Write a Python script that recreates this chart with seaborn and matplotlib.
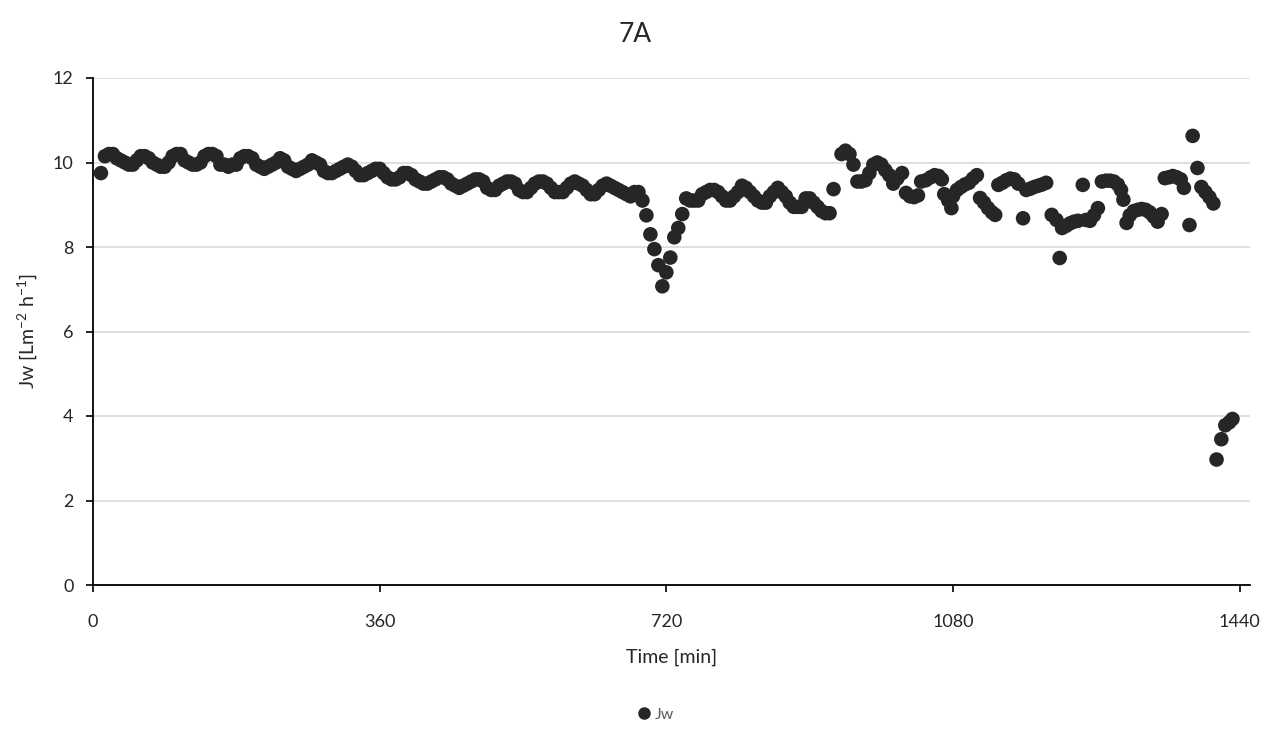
import matplotlib
matplotlib.use("Agg")
import matplotlib.pyplot as plt
import seaborn as sns
import pandas as pd

# ---- data ----
time_wave = [10, 15, 20, 25, 30, 35, 40, 45, 50, 55, 60, 65, 70, 75, 80, 85, 90, 95, 100,
             105, 110, 115, 120, 125, 130, 135, 140, 145, 150, 155, 160, 165, 170, 175, 180,
             185, 190, 195, 200, 205, 210, 215, 220, 225, 230, 235, 240, 245, 250, 255, 260,
             265, 270, 275, 280, 285, 290, 295, 300, 305, 310, 315, 320, 325, 330, 335, 340,
             345, 350, 355, 360, 365, 370, 375, 380, 385, 390, 395, 400, 405, 410, 415, 420,
             425, 430, 435, 440, 445, 450, 455, 460, 465, 470, 475, 480, 485, 490, 495, 500,
             505, 510, 515, 520, 525, 530, 535, 540, 545, 550, 555, 560, 565, 570, 575, 580,
             585, 590, 595, 600, 605, 610, 615, 620, 625, 630, 635, 640, 645, 650, 655, 660,
             665, 670, 675, 680]
jw_wave = [9.75, 10.15, 10.2, 10.2, 10.1, 10.05, 10.0, 9.95, 9.95, 10.05, 10.15, 10.15, 10.1,
           10.0, 9.95, 9.9, 9.9, 10.0, 10.15, 10.2, 10.2, 10.05, 10.0, 9.95, 9.95, 10.0, 10.15,
           10.2, 10.2, 10.15, 9.95, 9.95, 9.9, 9.95, 9.95, 10.1, 10.15, 10.15, 10.1, 9.95, 9.9,
           9.85, 9.9, 9.95, 10.0, 10.1, 10.05, 9.9, 9.85, 9.8, 9.85, 9.9, 9.95, 10.05, 10.0,
           9.95, 9.8, 9.75, 9.75, 9.8, 9.85, 9.9, 9.95, 9.9, 9.8, 9.7, 9.7, 9.75, 9.8, 9.85,
           9.85, 9.75, 9.65, 9.6, 9.6, 9.65, 9.75, 9.75, 9.7, 9.6, 9.55, 9.5, 9.5, 9.55, 9.6,
           9.65, 9.65, 9.6, 9.5, 9.45, 9.4, 9.45, 9.5, 9.55, 9.6, 9.6, 9.55, 9.4, 9.35, 9.35,
           9.45, 9.5, 9.55, 9.55, 9.5, 9.35, 9.3, 9.3, 9.4, 9.5, 9.55, 9.55, 9.5, 9.4, 9.3,
           9.3, 9.3, 9.4, 9.5, 9.55, 9.5, 9.45, 9.35, 9.25, 9.25, 9.35, 9.45, 9.5, 9.45, 9.4,
           9.35, 9.3, 9.25, 9.2, 9.3]

time_dip = [685, 690, 695, 700, 705, 710, 715, 720, 725, 730, 735, 740, 745]
jw_dip = [9.3, 9.1, 8.75, 8.3, 7.95, 7.57, 7.07, 7.4, 7.75, 8.23, 8.45, 8.78, 9.15]

time_mid = [750, 755, 760, 765, 770, 775, 780, 785, 790, 795, 800, 805, 810, 815, 820, 825,
            830, 835, 840, 845, 850, 855, 860, 865, 870, 875, 880, 885, 890, 895, 900, 905,
            910, 915, 920, 925, 930]
jw_mid = [9.1, 9.1, 9.1, 9.25, 9.3, 9.35, 9.35, 9.3, 9.2, 9.1, 9.1, 9.2, 9.3, 9.45, 9.4, 9.3,
          9.2, 9.1, 9.05, 9.05, 9.2, 9.3, 9.4, 9.3, 9.2, 9.05, 8.95, 8.95, 8.95, 9.15, 9.15,
          9.05, 8.95, 8.85, 8.8, 8.8, 9.37]

time_late = [940, 945, 950, 955, 960, 965, 970, 975, 980, 985, 990, 995, 1000, 1005, 1010,
             1016, 1021, 1026, 1031, 1036, 1040, 1046, 1052, 1057, 1062, 1066, 1069, 1074,
             1078, 1080, 1085, 1090, 1095, 1100, 1105, 1110, 1114, 1119, 1124, 1129, 1133,
             1137, 1142, 1147, 1152, 1157, 1162, 1168, 1172, 1177, 1182, 1187, 1192, 1197,
             1204, 1210, 1214, 1217, 1222, 1227, 1232, 1237, 1243, 1247, 1252, 1257, 1262,
             1267, 1272, 1277, 1282, 1287, 1291, 1294, 1298, 1302, 1307, 1312, 1317, 1322,
             1327, 1332, 1337, 1342, 1346, 1351, 1356, 1361, 1366, 1370, 1377, 1381, 1387,
             1392, 1397, 1402, 1407, 1411, 1417, 1422, 1427, 1431]
jw_late = [10.2, 10.28, 10.2, 9.95, 9.55, 9.55, 9.58, 9.75, 9.95, 10.0, 9.95, 9.82, 9.7, 9.5,
           9.62, 9.75, 9.28, 9.2, 9.18, 9.22, 9.55, 9.58, 9.65, 9.7, 9.68, 9.6, 9.25, 9.1,
           8.92, 9.2, 9.35, 9.42, 9.48, 9.52, 9.62, 9.7, 9.16, 9.05, 8.92, 8.82, 8.76, 9.47,
           9.52, 9.58, 9.62, 9.6, 9.5, 8.68, 9.35, 9.38, 9.42, 9.45, 9.48, 9.52, 8.76, 8.64,
           7.74, 8.45, 8.5, 8.56, 8.6, 8.62, 9.47, 8.64, 8.62, 8.75, 8.92, 9.55, 9.57, 9.57,
           9.55, 9.48, 9.35, 9.12, 8.57, 8.75, 8.85, 8.88, 8.9, 8.88, 8.82, 8.72, 8.6, 8.78,
           9.63, 9.65, 9.68, 9.65, 9.6, 9.4, 8.52, 10.63, 9.87, 9.42, 9.3, 9.18, 9.03, 2.97,
           3.45, 3.78, 3.85, 3.93]

x_ticks = [0, 360, 720, 1080, 1440]
y_ticks = [0, 2, 4, 6, 8, 10, 12]
title = "7A"
x_label = "Time [min]"
y_label = r"Jw [Lm$\mathregular{^{-2}}$ h$\mathregular{^{-1}}$]"
series_name = "Jw"

df = pd.DataFrame({
    "Time": time_wave + time_dip + time_mid + time_late,
    "Jw": jw_wave + jw_dip + jw_mid + jw_late,
})
df["series"] = series_name

# ---- style ----
sns.set_theme(style="white")
plt.rcParams["font.family"] = ["Lato", "DejaVu Sans"]
plt.rcParams["mathtext.fontset"] = "custom"
plt.rcParams["mathtext.rm"] = "Lato"

fig = plt.figure(figsize=(12.7, 7.42), dpi=100)
ax = fig.add_axes([93 / 1270, 1 - 585 / 742, (1250 - 93) / 1270, (585 - 78) / 742])

point_color = "#262626"
sns.scatterplot(data=df, x="Time", y="Jw", hue="series", palette=[point_color],
                s=110, linewidth=0, ax=ax, legend=False, zorder=3)

ax.set_xlim(0, 1453)
ax.set_ylim(0, 12)
ax.set_xticks(x_ticks)
ax.set_yticks(y_ticks)
ax.yaxis.grid(True, color="#d9d9d9", linewidth=1.2)
ax.xaxis.grid(False)
ax.set_axisbelow(True)

for side in ["top", "right"]:
    ax.spines[side].set_visible(False)
for side in ["left", "bottom"]:
    ax.spines[side].set_color("black")
    ax.spines[side].set_linewidth(1.3)

ax.tick_params(axis="both", which="major", direction="out", length=5, width=1.2,
               color="black", labelsize=13, labelcolor="#262626",
               bottom=True, left=True)
ax.tick_params(axis="x", pad=16)
ax.tick_params(axis="y", pad=9)

ax.set_xlabel(x_label, fontsize=14, color="#262626", labelpad=13)
ax.set_ylabel(y_label, fontsize=14, color="#262626", labelpad=10)
fig.text(0.5, 1 - 35 / 742, title, ha="center", va="center", fontsize=19, color="#262626")

handle = plt.Line2D([], [], marker="o", linestyle="", color=point_color, markersize=8)
fig.legend([handle], [series_name], loc="center", bbox_to_anchor=(0.5 + 21 / 1270, 1 - 715 / 742),
           frameon=False, fontsize=11.5, handlelength=0.8, handletextpad=0.3,
           labelcolor="#595959")

fig.savefig("out.png", dpi=100)
